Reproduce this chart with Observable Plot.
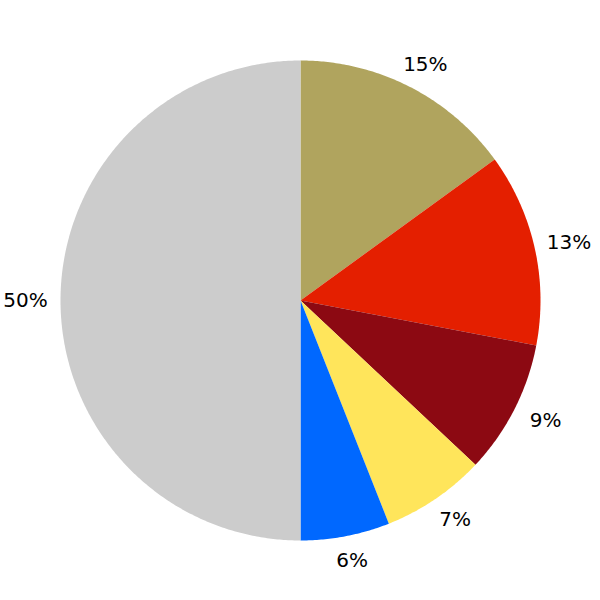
<!DOCTYPE html>
<html>
<head>
<meta charset="utf-8">
<script src="https://cdn.jsdelivr.net/npm/d3@7"></script>
<script src="https://cdn.jsdelivr.net/npm/@observablehq/plot@0.6"></script>
<style>
  html, body { margin: 0; padding: 0; background: #fff; }
</style>
</head>
<body>
<div id="chart"></div>
<script>
const labels = ["15%", "13%", "9%", "7%", "6%", "50%"];
const values = [15, 13, 9, 7, 6, 50];
const colors = ["#b0a45e", "#e41f00", "#8c0912", "#ffe55b", "#0068ff", "#cccccc"];

const total = d3.sum(values);
const slices = [];
const polys = [];
let acc = 0;
values.forEach((v, i) => {
  const a0 = acc / total * 2 * Math.PI;
  acc += v;
  const a1 = acc / total * 2 * Math.PI;
  const key = labels[i];
  polys.push({key, x: 0, y: 0});
  const n = Math.max(2, Math.ceil((a1 - a0) / (Math.PI / 360)));
  for (let k = 0; k <= n; k++) {
    const a = a0 + (a1 - a0) * k / n;
    polys.push({key, x: Math.sin(a), y: Math.cos(a)});
  }
  const am = (a0 + a1) / 2;
  slices.push({key, lx: 1.146 * Math.sin(am), ly: 1.104 * Math.cos(am)});
});

const chart = Plot.plot({
  width: 600,
  height: 600,
  margin: 0,
  x: {domain: [-1.25, 1.25], axis: null},
  y: {domain: [-1.25, 1.25], axis: null},
  color: {domain: labels, range: colors},
  style: {fontFamily: "DejaVu Sans", background: "#fff"},
  marks: [
    Plot.line(polys, {x: "x", y: "y", z: "key", fill: "key", stroke: null, curve: "linear-closed"}),
    Plot.text(slices, {x: "lx", y: "ly", text: "key", fontSize: 20, fill: "#000", textAnchor: "middle"})
  ]
});
document.getElementById("chart").appendChild(chart);
</script>
</body>
</html>
